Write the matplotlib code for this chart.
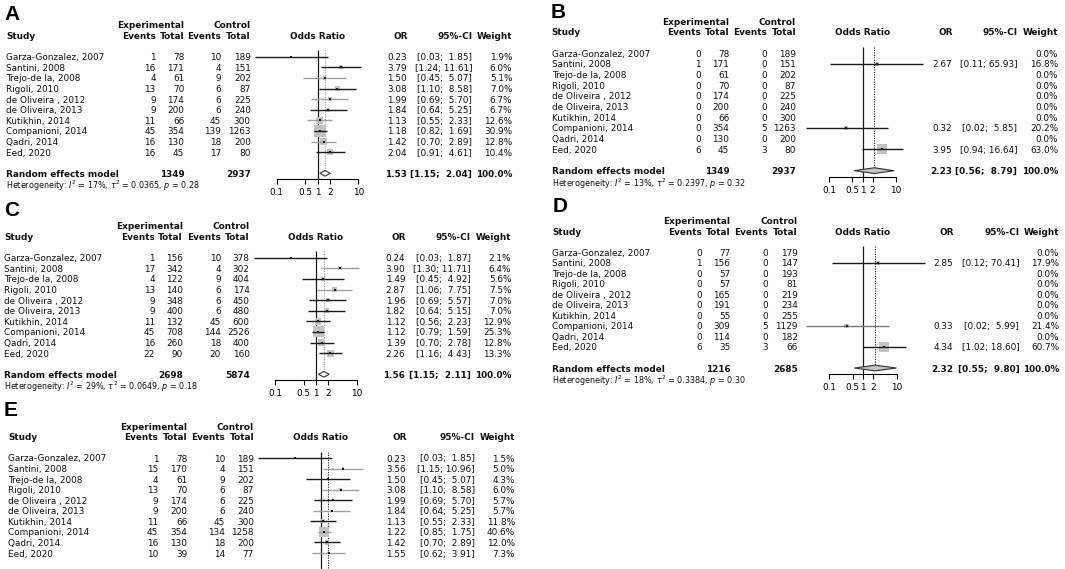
import numpy as np
import matplotlib.pyplot as plt
from matplotlib.transforms import blended_transform_factory
from matplotlib.ticker import NullLocator

W, H = 1065, 569
plt.rcParams['font.family'] = 'DejaVu Sans'
fig = plt.figure(figsize=(W / 100, H / 100), dpi=100)

studies = ["Garza-Gonzalez, 2007", "Santini, 2008", "Trejo-de la, 2008", "Rigoli, 2010",
           "de Oliveira , 2012", "de Oliveira, 2013", "Kutikhin, 2014", "Companioni, 2014",
           "Qadri, 2014", "Eed, 2020"]
nan = np.nan

# panel A
a_exp_ev = [1, 16, 4, 13, 9, 9, 11, 45, 16, 16]
a_exp_n = [78, 171, 61, 70, 174, 200, 66, 354, 130, 45]
a_ctl_ev = [10, 4, 9, 6, 6, 6, 45, 139, 18, 17]
a_ctl_n = [189, 151, 202, 87, 225, 240, 300, 1263, 200, 80]
a_or = [0.23, 3.79, 1.50, 3.08, 1.99, 1.84, 1.13, 1.18, 1.42, 2.04]
a_lo = [0.03, 1.24, 0.45, 1.10, 0.69, 0.64, 0.55, 0.82, 0.70, 0.91]
a_hi = [1.85, 11.61, 5.07, 8.58, 5.70, 5.25, 2.33, 1.69, 2.89, 4.61]
a_wt = [1.9, 6.0, 5.1, 7.0, 6.7, 6.7, 12.6, 30.9, 12.8, 10.4]
a_summ = [1.53, 1.15, 2.04]
a_tot = [1349, 2937]
a_het = ["17%", "0.0365", "0.28"]

# panel B
b_exp_ev = [0, 1, 0, 0, 0, 0, 0, 0, 0, 6]
b_exp_n = [78, 171, 61, 70, 174, 200, 66, 354, 130, 45]
b_ctl_ev = [0, 0, 0, 0, 0, 0, 0, 5, 0, 3]
b_ctl_n = [189, 151, 202, 87, 225, 240, 300, 1263, 200, 80]
b_or = [nan, 2.67, nan, nan, nan, nan, nan, 0.32, nan, 3.95]
b_lo = [nan, 0.11, nan, nan, nan, nan, nan, 0.02, nan, 0.94]
b_hi = [nan, 65.93, nan, nan, nan, nan, nan, 5.85, nan, 16.64]
b_wt = [0.0, 16.8, 0.0, 0.0, 0.0, 0.0, 0.0, 20.2, 0.0, 63.0]
b_summ = [2.23, 0.56, 8.79]
b_tot = [1349, 2937]
b_het = ["13%", "0.2397", "0.32"]

# panel C
c_exp_ev = [1, 17, 4, 13, 9, 9, 11, 45, 16, 22]
c_exp_n = [156, 342, 122, 140, 348, 400, 132, 708, 260, 90]
c_ctl_ev = [10, 4, 9, 6, 6, 6, 45, 144, 18, 20]
c_ctl_n = [378, 302, 404, 174, 450, 480, 600, 2526, 400, 160]
c_or = [0.24, 3.90, 1.49, 2.87, 1.96, 1.82, 1.12, 1.12, 1.39, 2.26]
c_lo = [0.03, 1.30, 0.45, 1.06, 0.69, 0.64, 0.56, 0.79, 0.70, 1.16]
c_hi = [1.87, 11.71, 4.92, 7.75, 5.57, 5.15, 2.23, 1.59, 2.78, 4.43]
c_wt = [2.1, 6.4, 5.6, 7.5, 7.0, 7.0, 12.9, 25.3, 12.8, 13.3]
c_summ = [1.56, 1.15, 2.11]
c_tot = [2698, 5874]
c_het = ["29%", "0.0649", "0.18"]

# panel D
d_exp_ev = [0, 1, 0, 0, 0, 0, 0, 0, 0, 6]
d_exp_n = [77, 156, 57, 57, 165, 191, 55, 309, 114, 35]
d_ctl_ev = [0, 0, 0, 0, 0, 0, 0, 5, 0, 3]
d_ctl_n = [179, 147, 193, 81, 219, 234, 255, 1129, 182, 66]
d_or = [nan, 2.85, nan, nan, nan, nan, nan, 0.33, nan, 4.34]
d_lo = [nan, 0.12, nan, nan, nan, nan, nan, 0.02, nan, 1.02]
d_hi = [nan, 70.41, nan, nan, nan, nan, nan, 5.99, nan, 18.60]
d_wt = [0.0, 17.9, 0.0, 0.0, 0.0, 0.0, 0.0, 21.4, 0.0, 60.7]
d_summ = [2.32, 0.55, 9.80]
d_tot = [1216, 2685]
d_het = ["18%", "0.3384", "0.30"]

# panel E (cut off below the last study)
e_exp_ev = [1, 15, 4, 13, 9, 9, 11, 45, 16, 10]
e_exp_n = [78, 170, 61, 70, 174, 200, 66, 354, 130, 39]
e_ctl_ev = [10, 4, 9, 6, 6, 6, 45, 134, 18, 14]
e_ctl_n = [189, 151, 202, 87, 225, 240, 300, 1258, 200, 77]
e_or = [0.23, 3.56, 1.50, 3.08, 1.99, 1.84, 1.13, 1.22, 1.42, 1.55]
e_lo = [0.03, 1.15, 0.45, 1.10, 0.69, 0.64, 0.55, 0.85, 0.70, 0.62]
e_hi = [1.85, 10.96, 5.07, 8.58, 5.70, 5.25, 2.33, 1.75, 2.89, 3.91]
e_wt = [1.5, 5.0, 4.3, 6.0, 5.7, 5.7, 11.8, 40.6, 12.0, 7.3]
e_summ = [1.5, nan, nan]   # only the dotted line is visible

DK, LT = '#1a1a1a', '#a0a0a0'
FS, HFS = 6.4, 5.8

# pixel layout of each panel (columns, forest scale, rows)
lay_a = dict(lab=(4, 14), y0=56.7, dy=10.6, study=6, ee=155.7, en=184.3, ce=221.3, cn=250.7,
             p1=317.5, dec=40.8, orx=407, cix=472.3, wx=512.3, sq=12, dot='#9a9a9a',
             dfill='white', shades=[DK, DK, LT, DK, LT, DK, LT, DK, LT, DK])
lay_b = dict(lab=(551, 13), y0=53.3, dy=10.67, study=551.7, ee=701, en=729.3, ce=767.3, cn=796,
             p1=862.5, dec=33.5, orx=952, cix=1017.3, wx=1058.3, sq=10, dot=DK,
             dfill='#c4c4c4', shades=[DK] * 10)
lay_c = dict(lab=(4, 211), y0=257.7, dy=10.6, study=4.5, ee=155, en=183, ce=221, cn=249.7,
             p1=316, dec=40.7, orx=405.3, cix=470.7, wx=511.3, sq=11, dot='#9a9a9a',
             dfill='white', shades=[DK, LT, DK, LT, DK, DK, DK, DK, DK, DK])
lay_d = dict(lab=(553, 206), y0=252.3, dy=10.52, study=552.3, ee=702, en=730.3, ce=767.7, cn=797.7,
             p1=863, dec=33.7, orx=953.3, cix=1019.3, wx=1059.3, sq=10, dot=DK,
             dfill='#c4c4c4', shades=[DK] * 7 + ['#777777'] + [DK] * 2)
lay_e = dict(lab=(4, 411), y0=458, dy=10.56, study=8.3, ee=158.3, en=187.3, ce=225.3, cn=254,
             p1=320.7, dec=41, orx=406, cix=475, wx=515, sq=9.5, dot=DK,
             dfill='white', shades=[DK, LT, DK, LT, DK, LT, DK, LT, DK, LT])


def draw_panel(label, lay, ee, en, ce, cn, orr, lo, hi, wt, summ, tot=None, het=None):
    cut = tot is None
    y0, dy = lay['y0'], lay['dy']
    top_row = -4.0
    bot_row = (H - y0) / dy if cut else 13.0
    p1, dec = lay['p1'], lay['dec']
    span = 2.6
    left_px, right_px = p1 - span * dec, p1 + span * dec
    top_px, bot_px = y0 + dy * top_row, y0 + dy * bot_row
    ax = fig.add_axes([left_px / W, 1 - bot_px / H, (right_px - left_px) / W, (bot_px - top_px) / H])
    ax.set_xscale('log')
    ax.set_xlim(10 ** -span, 10 ** span)
    ax.set_ylim(bot_row, top_row)
    ax.patch.set_visible(False)
    for s in ['left', 'right', 'top']:
        ax.spines[s].set_visible(False)
    ax.set_yticks([])
    ax.xaxis.set_minor_locator(NullLocator())
    if cut:
        ax.spines['bottom'].set_visible(False)
        ax.set_xticks([])
    else:
        ax.spines['bottom'].set_position(('data', 11.55))
        ax.spines['bottom'].set_bounds(0.1, 10)
        ax.spines['bottom'].set_linewidth(0.8)
        ax.set_xticks([0.1, 0.5, 1, 2, 10], labels=['0.1', '0.5', '1', '2', '10'])
        ax.tick_params(axis='x', length=3.6, width=0.8, labelsize=FS, pad=3)

    tr = blended_transform_factory(fig.transFigure, ax.transData)

    def txt(xpx, row, s, ha='right', bold=False, size=FS):
        ax.text(xpx / W, row, s, transform=tr, ha=ha, va='center_baseline', fontsize=size,
                fontweight='bold' if bold else 'normal', color='#111111')

    # panel letter
    fig.text(lay['lab'][0] / W, 1 - lay['lab'][1] / H, label, fontsize=15, fontweight='bold',
             family='Liberation Sans', ha='left', va='center')

    # headers
    txt(lay['en'], -3, 'Experimental', bold=True)
    txt(lay['cn'], -3, 'Control', bold=True)
    txt(lay['study'], -2, 'Study', ha='left', bold=True)
    txt(lay['ee'], -2, 'Events', bold=True)
    txt(lay['en'], -2, 'Total', bold=True)
    txt(lay['ce'], -2, 'Events', bold=True)
    txt(lay['cn'], -2, 'Total', bold=True)
    ax.text(1, -2, 'Odds Ratio', ha='center', va='center_baseline', fontsize=FS,
            fontweight='bold', color='#111111')
    txt(lay['orx'] + 1, -2, 'OR', bold=True)
    txt(lay['cix'], -2, '95%-CI', bold=True)
    txt(lay['wx'], -2, 'Weight', bold=True)

    rows = np.arange(len(studies))
    for i, name in enumerate(studies):
        txt(lay['study'], i, name, ha='left')
        txt(lay['ee'], i, str(ee[i]))
        txt(lay['en'], i, str(en[i]))
        txt(lay['ce'], i, str(ce[i]))
        txt(lay['cn'], i, str(cn[i]))
        if not np.isnan(orr[i]):
            txt(lay['orx'], i, f"{orr[i]:.2f}")
            txt(lay['cix'], i, f"[{lo[i]:.2f}; {hi[i]:5.2f}]")
        txt(lay['wx'], i, f"{wt[i]:.1f}%")

    orr = np.array(orr, float)
    lo = np.array(lo, float)
    hi = np.array(hi, float)
    wt = np.array(wt, float)
    ok = ~np.isnan(orr)
    side_px = lay['sq'] * (wt[ok] / wt.max()) ** 0.7
    ax.scatter(orr[ok], rows[ok], marker='s', s=(side_px * 0.72) ** 2, c='#c2c2c2',
               linewidths=0, zorder=2)
    ax.hlines(rows[ok], lo[ok], hi[ok], colors=[lay['shades'][i] for i in rows[ok]],
              lw=1.0, zorder=3)
    ax.scatter(orr[ok], rows[ok], marker='s', s=2.2, c=DK, linewidths=0, zorder=4)

    ax.vlines(1, -0.6, 11.55, colors=DK, lw=0.9, zorder=1)
    dot_end = bot_row if cut else 10.75
    ax.vlines(summ[0], -0.6, dot_end, colors=lay['dot'], linestyles=(0, (1, 1.2)), lw=0.8, zorder=1)

    if not cut:
        hh = 0.27
        ax.fill([summ[1], summ[0], summ[2], summ[0]], [11, 11 - hh, 11, 11 + hh],
                facecolor=lay['dfill'], edgecolor='#333333', lw=0.8, zorder=3)
        txt(lay['study'], 11, 'Random effects model', ha='left', bold=True)
        txt(lay['en'], 11, str(tot[0]), bold=True)
        txt(lay['cn'], 11, str(tot[1]), bold=True)
        txt(lay['orx'], 11, f"{summ[0]:.2f}", bold=True)
        txt(lay['cix'], 11, f"[{summ[1]:.2f}; {summ[2]:5.2f}]", bold=True)
        txt(lay['wx'], 11, "100.0%", bold=True)
        txt(lay['study'], 12.0, "Heterogeneity: $I^2$ = " + het[0] + r", $\tau^2$ = " + het[1]
            + ", $p$ = " + het[2], ha='left', size=HFS)


draw_panel('A', lay_a, a_exp_ev, a_exp_n, a_ctl_ev, a_ctl_n, a_or, a_lo, a_hi, a_wt, a_summ, a_tot, a_het)
draw_panel('B', lay_b, b_exp_ev, b_exp_n, b_ctl_ev, b_ctl_n, b_or, b_lo, b_hi, b_wt, b_summ, b_tot, b_het)
draw_panel('C', lay_c, c_exp_ev, c_exp_n, c_ctl_ev, c_ctl_n, c_or, c_lo, c_hi, c_wt, c_summ, c_tot, c_het)
draw_panel('D', lay_d, d_exp_ev, d_exp_n, d_ctl_ev, d_ctl_n, d_or, d_lo, d_hi, d_wt, d_summ, d_tot, d_het)
draw_panel('E', lay_e, e_exp_ev, e_exp_n, e_ctl_ev, e_ctl_n, e_or, e_lo, e_hi, e_wt, e_summ)

fig.savefig('out.png', dpi=100)
